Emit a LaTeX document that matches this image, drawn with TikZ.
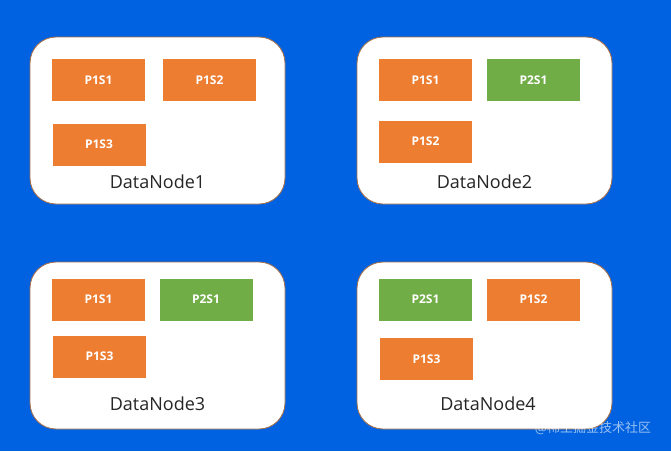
\documentclass[tikz,border=0pt]{standalone}
\usepackage{fontspec}
\setmainfont{Open Sans}
\newfontfamily\cjkfont{Noto Sans CJK SC}
\definecolor{bgblue}{HTML}{0062E0}
\definecolor{shorange}{HTML}{ED7D31}
\definecolor{shgreen}{HTML}{70AD47}
\definecolor{dnborder}{HTML}{A5704F}
\tikzset{
  dnbox/.style={draw=dnborder, line width=0.9pt, fill=white, rounded corners=26pt},
  shard/.style={draw=none, minimum width=93pt, minimum height=42pt, inner sep=0pt,
     text=white, font=\fontsize{12}{13}\selectfont\bfseries},
  orshard/.style={shard, fill=shorange},
  grshard/.style={shard, fill=shgreen},
  dnlabel/.style={font=\fontsize{18}{20}\selectfont, text=black!85, inner sep=0pt}
}
\begin{document}
\begin{tikzpicture}[x=1pt,y=-1pt]
\fill[bgblue] (0,0) rectangle (671,451);
\useasboundingbox (0,0) rectangle (671,451);
% DataNode1
\draw[dnbox] (30,37) rectangle (285,204);
\node[orshard] (a1) at (98.5,80) {P1S1};
\node[orshard] (a2) at (209.5,80) {P1S2};
\node[orshard] (a3) at (99,144.5) {P1S3};
\node[dnlabel] (l1) at (157.5,182) {DataNode1};
% DataNode2
\draw[dnbox] (357,37) rectangle (612,204);
\node[orshard] (b1) at (425.5,80) {P1S1};
\node[grshard] (b2) at (533.5,80) {P2S1};
\node[orshard] (b3) at (425.5,141.5) {P1S2};
\node[dnlabel] (l2) at (484.5,182) {DataNode2};
% DataNode3
\draw[dnbox] (30,262) rectangle (285,429);
\node[orshard] (c1) at (98.5,299.5) {P1S1};
\node[grshard] (c2) at (206,299.5) {P2S1};
\node[orshard] (c3) at (99.5,356.5) {P1S3};
\node[dnlabel] (l3) at (157.5,404) {DataNode3};
% DataNode4
\draw[dnbox] (357,262) rectangle (612,429);
\node[grshard] (d1) at (425.5,299.5) {P2S1};
\node[orshard] (d2) at (533.5,299.5) {P1S2};
\node[orshard] (d3) at (426.5,359) {P1S3};
\node[dnlabel] (l4) at (488,404) {DataNode4};
% watermark
\node[text=white, opacity=0.6, font=\cjkfont\fontsize{13}{14}\selectfont, inner sep=0pt] (wm) at (593,428) {@稀土掘金技术社区};
\end{tikzpicture}
\end{document}
